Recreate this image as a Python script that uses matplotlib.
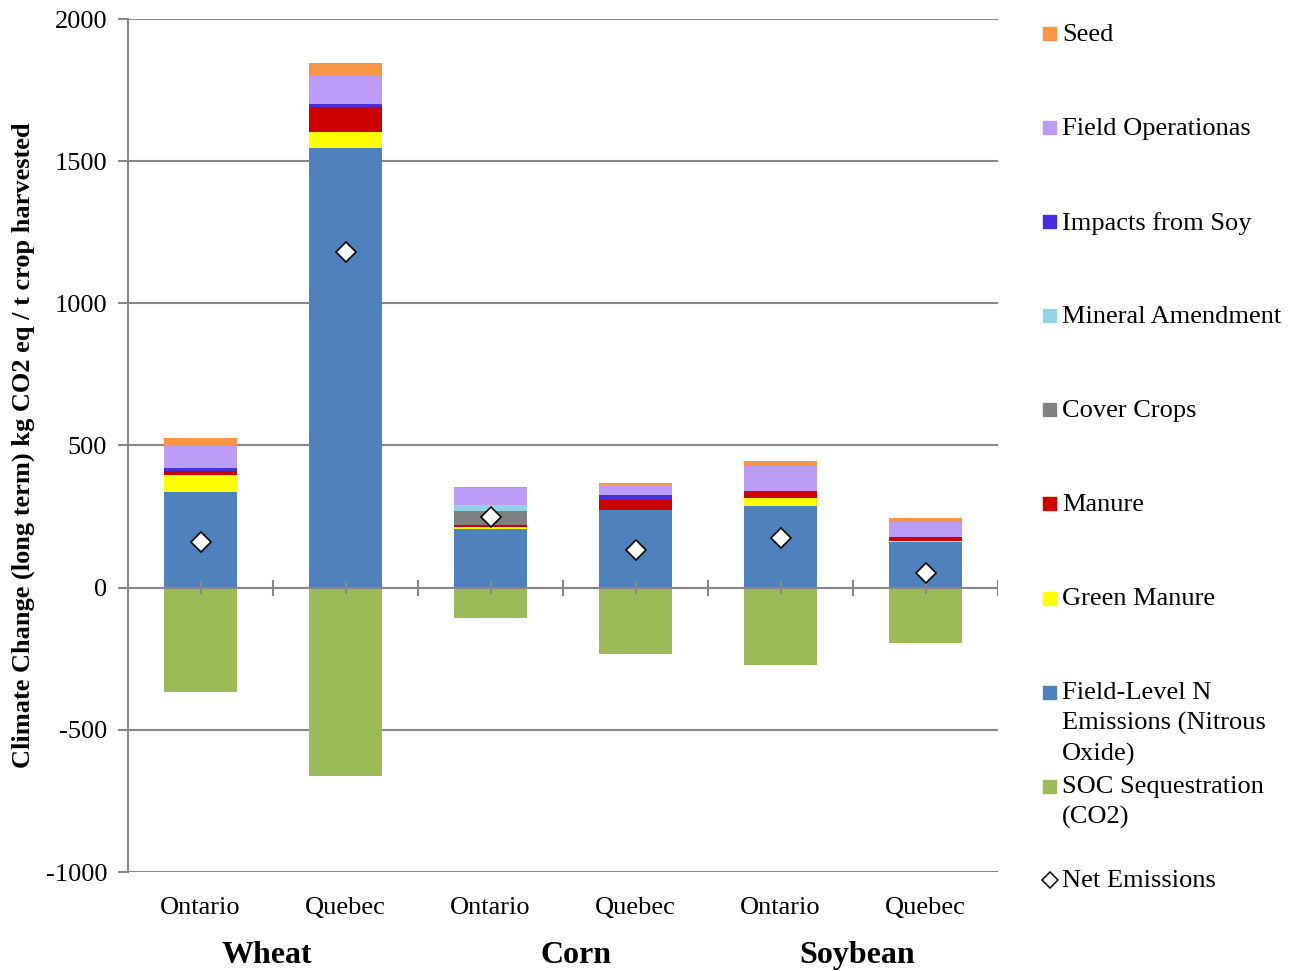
import numpy as np
import matplotlib.pyplot as plt
from matplotlib.patches import Rectangle
from matplotlib.lines import Line2D

plt.rcParams['font.family'] = ['Liberation Serif', 'DejaVu Serif']
plt.rcParams['axes.unicode_minus'] = False

regions = ['Ontario', 'Quebec', 'Ontario', 'Quebec', 'Ontario', 'Quebec']
crops = ['Wheat', 'Corn', 'Soybean']

# stack order, bottom to top
field_n = [338, 1548, 207, 274, 286, 159]
green_manure = [59, 53, 5, 0, 30, 6]
manure = [15, 91, 9, 36, 23, 12]
cover_crops = [0, 0, 47, 0, 0, 0]
mineral = [0, 0, 24, 0, 0, 0]
soy = [8, 8, 0, 17, 0, 0]
field_ops = [79, 101, 57, 35, 90, 54]
seed = [27, 44, 5, 6, 18, 13]
soc = [-366, -661, -105, -235, -271, -193]
net = [162, 1181, 250, 134, 176, 53]

stack = [
    ('Field-Level N\nEmissions (Nitrous\nOxide)', field_n, '#4F81BD'),
    ('Green Manure', green_manure, '#FFFF00'),
    ('Manure', manure, '#CC0000'),
    ('Cover Crops', cover_crops, '#808080'),
    ('Mineral Amendment', mineral, '#93D3E7'),
    ('Impacts from Soy', soy, '#4B2EDB'),
    ('Field Operationas', field_ops, '#BC9CF6'),
    ('Seed', seed, '#F79646'),
]
soc_color = '#9BBB59'
grid_c = '#888888'

fig = plt.figure(figsize=(13.03, 9.71), dpi=100)
ax = fig.add_axes([128/1303, 1-872/971, 870/1303, 853/971])

x = np.arange(len(regions))
w = 0.5
bottom = np.zeros(len(regions))
for name, vals, col in stack:
    ax.bar(x, vals, w, bottom=bottom, color=col, zorder=2, linewidth=0)
    bottom += np.array(vals)
ax.bar(x, soc, w, color=soc_color, zorder=2, linewidth=0)

# zero line with category ticks
ax.axhline(0, color=grid_c, lw=1.5, zorder=3)
ax.vlines(x, -22, 22, color=grid_c, lw=1.5, zorder=3)
ax.vlines(np.arange(len(regions) + 1) - 0.5, -28, 28, color=grid_c, lw=1.5, zorder=3)

ax.plot(x, net, linestyle='none', marker='D', markersize=10,
        markerfacecolor='white', markeredgecolor='black', markeredgewidth=1.2, zorder=4)

ax.set_xlim(-0.5, len(regions) - 0.5)
ax.set_ylim(-1000, 2000)
ax.set_yticks(np.arange(-1000, 2001, 500))
ax.yaxis.grid(True, color=grid_c, lw=1.5, zorder=0)
ax.set_axisbelow(True)
for s in ['top', 'right', 'bottom']:
    ax.spines[s].set_visible(False)
ax.spines['left'].set_color(grid_c)
ax.spines['left'].set_linewidth(1.5)
ax.tick_params(axis='y', direction='out', length=7, width=1.5, color=grid_c,
               labelsize=19, pad=8)
ax.set_xticks(x)
ax.set_xticklabels(regions, fontsize=19)
ax.tick_params(axis='x', length=0, pad=18)

ax.set_ylabel('Climate Change (long term) kg CO2 eq / t crop harvested',
              fontsize=19, fontweight='bold', labelpad=8)

for pos, crop in zip([0.46, 2.59, 4.53], crops):
    ax.text(pos, -1295, crop, ha='center', va='center', fontsize=23,
            fontweight='bold')

# legend, fixed slot per entry
entries = [(n, c) for n, v, c in stack[::-1]] + [('SOC Sequestration\n(CO2)', soc_color)]
y0 = 1 - 34/971
step = 94/971
for i, (name, col) in enumerate(entries):
    yy = y0 - i * step
    fig.patches.append(Rectangle((1043/1303, yy - 6.5/971), 13/1303, 13/971,
                                 transform=fig.transFigure, color=col, figure=fig))
    fig.text(1062/1303, yy + 10/971, name, fontsize=19, va='top', ha='left',
             linespacing=1.45)
yy = y0 - len(entries) * step
fig.lines.append(Line2D([1050/1303], [yy], transform=fig.transFigure, marker='D',
                        markersize=8, markerfacecolor='white', markeredgecolor='black',
                        markeredgewidth=1.1, linestyle='none'))
fig.text(1062/1303, yy + 10/971, 'Net Emissions', fontsize=19, va='top', ha='left')

fig.savefig('out.png', dpi=100)
